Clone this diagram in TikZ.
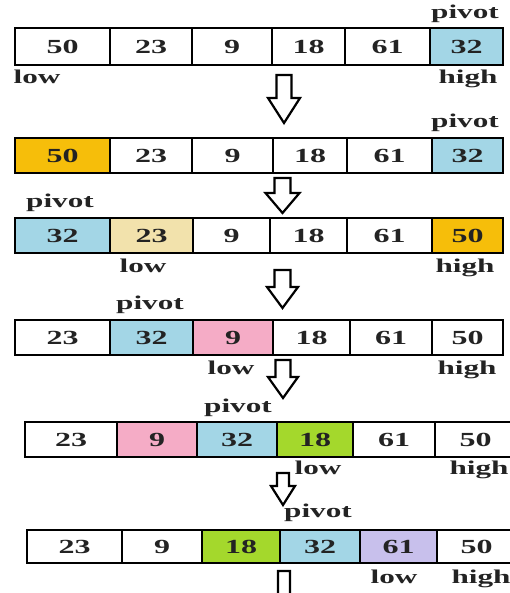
\documentclass[tikz,border=0pt]{standalone}
\usepackage{fontspec}
\setmainfont{Liberation Serif}
\definecolor{cblue}{RGB}{163,214,230}
\definecolor{corange}{RGB}{246,190,10}
\definecolor{cbeige}{RGB}{242,226,172}
\definecolor{cpink}{RGB}{245,172,198}
\definecolor{cgreen}{RGB}{164,216,44}
\definecolor{clav}{RGB}{200,192,236}
\definecolor{ctext}{RGB}{35,35,35}
\newcommand\sx[1]{\scalebox{1.6}[1]{#1}}
% name, x1, x2, y1, y2, fill, text
\newcommand\cellbox[7]{%
  \node[cellsty, fill=#6, minimum width={(#3-#2)*1pt}, minimum height={(#5-#4)*1pt}]
    (#1) at ({(#2+#3)/2},{(#4+#5)/2}) {\sx{#7}};}
% name, x, y, text
\newcommand\lbl[4]{\node[lblsty] (#1) at (#2,#3) {\sx{#4}};}
% cx, top, headstart, tip, shafthalf, headhalf
\newcommand\darrow[6]{%
  \draw[arrsty] ({#1-#5},#2) -- ({#1+#5},#2) -- ({#1+#5},#3) -- ({#1+#6},#3)
    -- (#1,#4) -- ({#1-#6},#3) -- ({#1-#5},#3) -- cycle;}
\begin{document}
\begin{tikzpicture}[x=1pt,y=-1pt,
  cellsty/.style={draw=black, line width=2.2pt, inner sep=0pt, outer sep=0pt,
    font=\fontsize{20}{21}\selectfont\bfseries, text=ctext},
  lblsty/.style={inner sep=0pt, font=\fontsize{19.5}{20}\selectfont\bfseries,
    text=ctext, text height=0.7em, text depth=0.22em},
  arrsty/.style={draw=black, line width=2.2pt, fill=white, line join=miter}]
\useasboundingbox (0,0) rectangle (510,593);
\clip (0,0) rectangle (510,593);
% Row 1
\cellbox{a1}{15}{110}{28}{65}{white}{50}
\cellbox{a2}{110}{192}{28}{65}{white}{23}
\cellbox{a3}{192}{272}{28}{65}{white}{9}
\cellbox{a4}{272}{345}{28}{65}{white}{18}
\cellbox{a5}{345}{430}{28}{65}{white}{61}
\cellbox{a6}{430}{503}{28}{65}{cblue}{32}
\lbl{ap}{465}{16}{pivot}
\lbl{al}{37}{81}{low}
\lbl{ah}{468}{81}{high}
\darrow{284}{75}{98}{123}{7.5}{16}
% Row 2
\cellbox{b1}{15}{110}{138}{173}{corange}{50}
\cellbox{b2}{110}{192}{138}{173}{white}{23}
\cellbox{b3}{192}{273}{138}{173}{white}{9}
\cellbox{b4}{273}{347}{138}{173}{white}{18}
\cellbox{b5}{347}{432}{138}{173}{white}{61}
\cellbox{b6}{432}{503}{138}{173}{cblue}{32}
\lbl{bp}{465}{125}{pivot}
\darrow{282.5}{178}{193}{213}{8}{17}
% Row 3
\cellbox{c1}{15}{110}{218}{253}{cblue}{32}
\cellbox{c2}{110}{193}{218}{253}{cbeige}{23}
\cellbox{c3}{193}{270}{218}{253}{white}{9}
\cellbox{c4}{270}{347}{218}{253}{white}{18}
\cellbox{c5}{347}{432}{218}{253}{white}{61}
\cellbox{c6}{432}{503}{218}{253}{corange}{50}
\lbl{cp}{60}{205}{pivot}
\lbl{cl}{143}{270}{low}
\lbl{ch}{465}{270}{high}
\darrow{282.5}{270}{287}{308}{8}{15.5}
% Row 4
\cellbox{d1}{15}{110}{320}{355}{white}{23}
\cellbox{d2}{110}{193}{320}{355}{cblue}{32}
\cellbox{d3}{193}{273}{320}{355}{cpink}{9}
\cellbox{d4}{273}{350}{320}{355}{white}{18}
\cellbox{d5}{350}{432}{320}{355}{white}{61}
\cellbox{d6}{432}{503}{320}{355}{white}{50}
\lbl{dp}{150}{307}{pivot}
\lbl{dl}{231}{372}{low}
\lbl{dh}{467}{372}{high}
\darrow{283}{360}{377}{398}{7.5}{15}
% Row 5
\cellbox{e1}{25}{117}{422}{457}{white}{23}
\cellbox{e2}{117}{197}{422}{457}{cpink}{9}
\cellbox{e3}{197}{277}{422}{457}{cblue}{32}
\cellbox{e4}{277}{353}{422}{457}{cgreen}{18}
\cellbox{e5}{353}{435}{422}{457}{white}{61}
\cellbox{e6}{435}{516}{422}{457}{white}{50}
\lbl{ep}{238}{410}{pivot}
\lbl{el}{318}{472}{low}
\lbl{eh}{479}{472}{high}
\darrow{283}{473}{486}{505}{6}{12}
% Row 6
\cellbox{f1}{27}{122}{530}{563}{white}{23}
\cellbox{f2}{122}{202}{530}{563}{white}{9}
\cellbox{f3}{202}{280}{530}{563}{cgreen}{18}
\cellbox{f4}{280}{360}{530}{563}{cblue}{32}
\cellbox{f5}{360}{437}{530}{563}{clav}{61}
\cellbox{f6}{437}{516}{530}{563}{white}{50}
\lbl{fp}{318}{515}{pivot}
\lbl{fl}{394}{581}{low}
\lbl{fh}{481}{581}{high}
\darrow{284}{571}{600}{620}{6}{13}
\end{tikzpicture}
\end{document}
